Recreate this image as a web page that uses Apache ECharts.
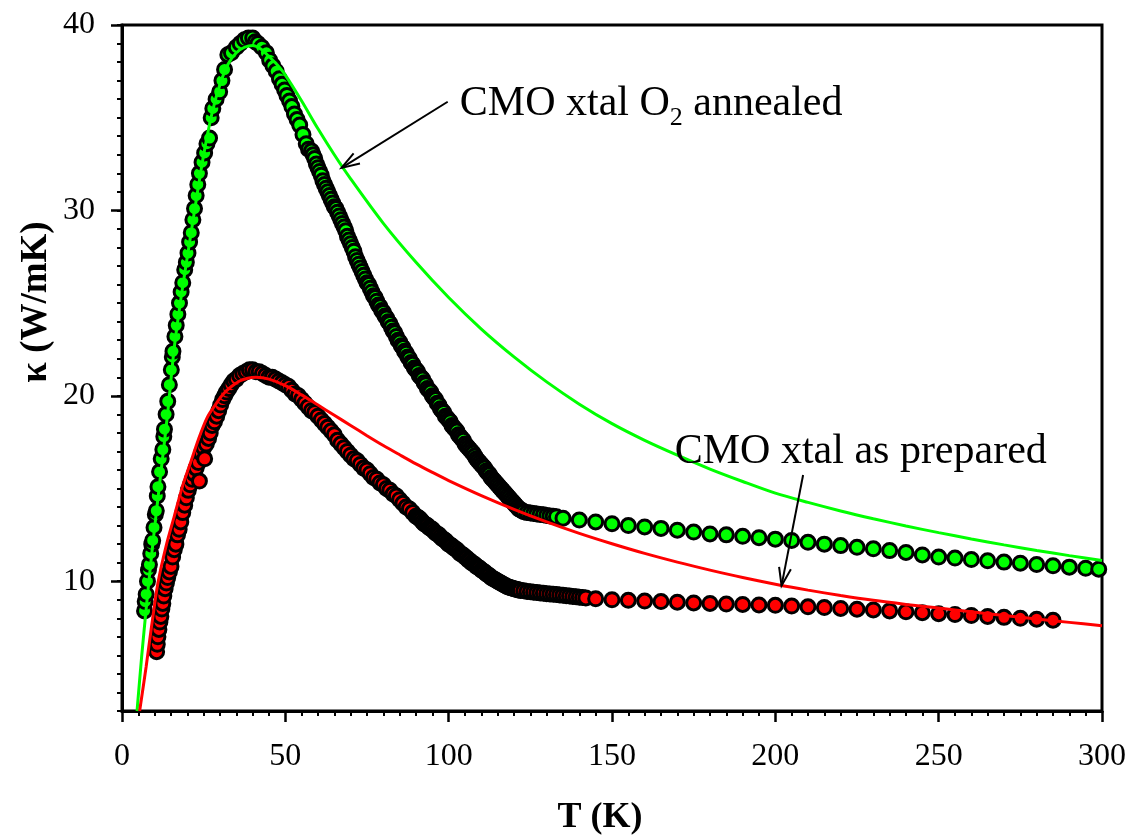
<!DOCTYPE html>
<html>
<head>
<meta charset="utf-8">
<title>Thermal conductivity of CMO crystals</title>
<script src="https://cdn.jsdelivr.net/npm/echarts@6/dist/echarts.min.js"></script>
<style>
  html, body { margin: 0; padding: 0; background: #fff; }
  #chart { width: 1130px; height: 836px; }
</style>
</head>
<body>
<div id="chart"></div>
<script>
// ---- Measured κ(T) for the O2-annealed crystal: [T (K), κ (W/mK)] ----
const annealedRise = [
  [6.9,8.4],[7.1,8.9],[7.4,9.3],[7.8,10.0],[8.1,10.6],[8.4,10.9],[8.8,11.5],[9.1,12.0],[9.4,12.2],[9.8,12.9],
  [10.2,13.6],[10.5,13.8],[10.8,14.6],[11.0,15.1],[11.5,15.9],[12.0,16.6],[12.5,17.1],[12.8,17.8],[13.0,18.2],[13.5,19.0],
  [14.0,19.7],[14.5,20.6],[15.1,21.4],[15.4,22.1],[15.6,22.4],[16.2,23.2],[16.6,23.8],[17.1,24.4],[17.6,25.0],[18.1,25.6],
  [18.6,26.1],[19.2,26.8],[19.7,27.2],[20.2,27.7],[20.7,28.3],[21.2,28.8],[21.7,29.5],[22.2,30.1],[22.7,30.8],[23.2,31.4],
  [23.7,32.0],[24.5,32.6],[25.3,33.1],[26.0,33.6],[26.8,33.9],[27.3,35.0],[27.8,35.5],[28.8,36.0],[29.9,36.4],[30.6,37.0],
  [31.4,37.6],[32.4,38.4],[33.5,38.5],[35.0,38.8],[36.2,39.0],[37.5,39.2],[38.7,39.3],[40.0,39.3],[40.8,39.1],[41.6,39.0],
  [42.8,38.8],[44.2,38.5],[45.2,38.1],[46.2,37.8],[47.2,37.5],[48.2,37.1],[49.0,36.8],[49.8,36.5],[50.5,36.2],[51.3,35.9],
  [52.0,35.6],[52.8,35.2],[53.6,34.9],[54.4,34.6],[55.4,34.1],[56.4,33.6],[57.1,33.3]
];
const annealedDense = [
  [58.0,33.2],[58.5,33.0],[59.0,32.8],[59.5,32.5],[60.0,32.3],[60.5,32.1],[61.0,31.9],[61.5,31.6],[62.0,31.4],[62.5,31.2],
  [63.0,31.0],[63.5,30.8],[64.0,30.6],[64.5,30.4],[65.0,30.2],[65.5,30.1],[66.0,29.9],[66.5,29.7],[67.0,29.5],[67.5,29.3],
  [68.0,29.1],[68.5,28.9],[69.0,28.6],[69.5,28.4],[70.0,28.2],[70.5,28.0],[71.0,27.8],[71.5,27.5],[72.0,27.3],[72.5,27.1],
  [73.0,26.9],[73.5,26.7],[74.0,26.5],[74.5,26.3],[75.0,26.1],[75.5,26.0],[76.0,25.8],[76.5,25.6],[77.0,25.4],[77.5,25.3],
  [78.0,25.1],[78.5,24.9],[79.0,24.8],[79.5,24.6],[80.0,24.5],[80.5,24.3],[81.0,24.2],[81.5,24.0],[82.0,23.9],[82.5,23.7],
  [83.0,23.5],[83.5,23.4],[84.0,23.2],[84.5,23.0],[85.0,22.9],[85.5,22.7],[86.0,22.6],[86.5,22.4],[87.0,22.3],[87.5,22.1],
  [88.0,22.0],[88.5,21.8],[89.0,21.7],[89.5,21.5],[90.0,21.4],[90.5,21.3],[91.0,21.1],[91.5,21.0],[92.0,20.9],[92.5,20.7],
  [93.0,20.6],[93.5,20.4],[94.0,20.3],[94.5,20.2],[95.0,20.0],[95.5,19.9],[96.0,19.8],[96.5,19.6],[97.0,19.5],[97.5,19.3],
  [98.0,19.2],[98.5,19.1],[99.0,18.9],[99.5,18.8],[100.0,18.7],[100.5,18.6],[101.0,18.4],[101.5,18.3],[102.0,18.2],[102.5,18.1],
  [103.0,17.9],[103.5,17.8],[104.0,17.7],[104.5,17.6],[105.0,17.4],[105.5,17.3],[106.0,17.2],[106.5,17.1],[107.0,17.0],[107.5,16.9],
  [108.0,16.75],[108.5,16.6],[109.0,16.5],[109.5,16.4],[110.0,16.3],[110.5,16.2],[111.0,16.1],[111.5,15.95],[112.0,15.85],[112.5,15.75],
  [113.0,15.6],[113.5,15.5],[114.0,15.4],[114.5,15.3],[115.0,15.2],[115.5,15.1],[116.0,15.0],[116.5,14.9],[117.0,14.8],[117.5,14.7],
  [118.0,14.6],[118.5,14.5],[119.0,14.4],[119.5,14.3],[120.0,14.2],[120.5,14.1],[121.0,14.0],[121.5,13.9],[122.0,13.85],[122.5,13.8],
  [123.0,13.75],[124.0,13.7],[125.0,13.68],[126.0,13.65],[127.0,13.62],[128.0,13.6],[129.0,13.58],[130.0,13.55],[131.0,13.52],[132.0,13.5],
  [133.0,13.48]
];
const annealedSparse = [
  [135,13.4],[140,13.3],[145,13.2],[150,13.1],[155,13.0],[160,12.93],[165,12.85],[170,12.75],[175,12.65],[180,12.55],
  [185,12.5],[190,12.42],[195,12.35],[200,12.27],[205,12.2],[210,12.1],[215,12.0],[220,11.92],[225,11.83],[230,11.75],
  [235,11.65],[240,11.55],[245,11.42],[250,11.3],[255,11.25],[260,11.17],[265,11.1],[270,11.03],[275,10.97],[280,10.9],
  [285,10.83],[290,10.76],[295,10.7],[299,10.65]
];

// ---- Measured κ(T) for the as-prepared crystal ----
const preparedRise = [
  [10.6,6.2],[10.8,6.6],[11.0,7.0],[11.3,7.4],[11.6,7.8],[11.9,8.1],[12.2,8.5],[12.5,8.8],[12.8,9.2],[13.2,9.6],
  [13.6,9.9],[14.0,10.2],[14.5,10.5],[15.0,10.8],[15.5,11.3],[16.0,11.7],[16.5,12.0],[17.0,12.5],[17.5,12.8],[18.0,13.2],
  [18.6,13.7],[19.2,14.1],[19.7,14.5],[20.3,14.9],[20.9,15.2],[21.5,15.5],[22.1,15.8],[22.7,16.1],[23.4,16.4],[23.7,15.4],
  [24.3,16.9],[25.0,17.2],[25.3,16.6],[25.8,17.4],[26.5,17.7],[27.0,18.0],[27.6,18.4],[28.3,18.6],[29.0,18.9],[29.6,19.2],
  [30.2,19.5],[30.8,19.8],[31.4,20.0],[32.0,20.2],[32.7,20.4],[33.4,20.6],[34.2,20.8],[35.0,20.9],[36.0,21.1],[37.0,21.2],
  [38.0,21.3],[39.0,21.4],[40.0,21.4]
];
const preparedFall = [
  [41.0,21.3],[42.0,21.3],[43.0,21.2],[44.0,21.1],[45.0,21.0],[46.0,21.0],[47.0,20.9],[48.0,20.8],[49.0,20.7],[50.0,20.6],
  [51.0,20.5],[52.0,20.3],[53.0,20.1],[54.0,20.0],[55.0,19.8],[56.0,19.6],[57.0,19.4],[58.0,19.2],[59.0,19.1],[60.0,18.9],
  [61.0,18.7],[62.0,18.5],[63.0,18.3],[64.0,18.1],[65.0,17.9],[66.0,17.6],[67.0,17.4],[68.0,17.2],[69.0,17.0],[70.0,16.8],
  [71.0,16.6],[72.0,16.5],[73.0,16.3],[74.0,16.1],[75.0,16.0],[76.0,15.8],[77.0,15.6],[78.0,15.5],[79.0,15.3],[80.0,15.2],
  [81.0,15.0],[82.0,14.9],[83.0,14.7],[84.0,14.6],[85.0,14.4],[86.0,14.2],[87.0,14.0],[88.0,13.9],[89.0,13.7],[90.0,13.5]
];
const preparedDense = [
  [90.5,13.45],[91.0,13.4],[91.5,13.3],[92.0,13.2],[92.5,13.1],[93.0,13.05],[93.5,13.0],[94.0,12.9],[94.5,12.85],[95.0,12.8],
  [95.5,12.7],[96.0,12.6],[96.5,12.55],[97.0,12.5],[97.5,12.4],[98.0,12.3],[98.5,12.25],[99.0,12.2],[99.5,12.1],[100.0,12.0],
  [100.5,11.95],[101.0,11.9],[101.5,11.8],[102.0,11.75],[102.5,11.7],[103.0,11.6],[103.5,11.5],[104.0,11.45],[104.5,11.4],[105.0,11.3],
  [105.5,11.25],[106.0,11.15],[106.5,11.1],[107.0,11.0],[107.5,10.95],[108.0,10.9],[108.5,10.8],[109.0,10.75],[109.5,10.7],[110.0,10.6],
  [110.5,10.55],[111.0,10.5],[111.5,10.4],[112.0,10.35],[112.5,10.3],[113.0,10.2],[113.5,10.15],[114.0,10.1],[114.5,10.05],[115.0,10.0],
  [115.5,9.95],[116.0,9.9],[116.5,9.85],[117.0,9.8],[117.5,9.75],[118.0,9.7],[118.5,9.68],[119.0,9.65],[119.5,9.62],[120.0,9.6],
  [120.5,9.57],[121.0,9.55],[121.5,9.52],[122.0,9.5],[123.0,9.48],[124.0,9.45],[125.0,9.43],[126.0,9.41],[127.0,9.39],[128.0,9.37],
  [129.0,9.35],[130.0,9.33],[131.0,9.31],[132.0,9.3],[133.0,9.28],[134.0,9.26],[135.0,9.24],[136.0,9.22],[137.0,9.2],[138.0,9.18],
  [139.0,9.16],[140.0,9.14],[141.0,9.12],[142.0,9.1]
];
const preparedSparse = [
  [145,9.05],[150,9.0],[155,8.97],[160,8.93],[165,8.9],[170,8.87],[175,8.83],[180,8.8],[185,8.77],[190,8.75],
  [195,8.72],[200,8.7],[205,8.66],[210,8.62],[215,8.58],[220,8.53],[225,8.49],[230,8.45],[235,8.4],[240,8.35],
  [245,8.3],[250,8.25],[255,8.2],[260,8.15],[265,8.1],[270,8.05],[275,8.0],[280,7.95],[285,7.9]
];

// ---- Model fits κ(T) ----
const annealedFit = [
  [4.6,3.0],[6,5.9],[7.5,8.7],[9,11.3],[10.5,13.7],[12,16.0],[14,19.1],[16,22.6],[18,25.2],[20,27.5],
  [22.5,30.3],[25,33.0],[27.5,35.2],[30,36.8],[32.5,37.9],[35,38.5],[37.5,38.8],[40,38.9],[42.5,38.7],[45,38.3],
  [47.5,37.85],[50,37.3],[55,35.9],[60,34.4],[65,33.0],[70,31.7],[80,29.3],[90,27.2],[100,25.3],[110,23.6],
  [120,22.1],[130,20.75],[140,19.55],[150,18.5],[160,17.6],[170,16.8],[180,16.05],[190,15.38],[200,14.75],[210,14.25],
  [220,13.79],[230,13.37],[240,12.98],[250,12.62],[260,12.28],[270,11.96],[280,11.66],[290,11.38],[300,11.12]
];
const preparedFit = [
  [5.4,3.0],[7.4,5.4],[9,7.5],[11,9.9],[13.5,11.9],[16,13.5],[18.5,15.1],[21,16.4],[23.5,17.7],[26,18.8],
  [28.5,19.5],[31,20.1],[33.5,20.5],[36,20.8],[38.5,20.95],[41,21.0],[45,20.9],[50,20.55],[55,20.05],[60,19.5],
  [65,18.95],[70,18.4],[75,17.85],[80,17.32],[85,16.82],[90,16.33],[95,15.87],[100,15.43],[110,14.62],[120,13.88],
  [130,13.2],[140,12.58],[150,12.02],[160,11.5],[170,11.03],[180,10.6],[190,10.2],[200,9.84],[210,9.52],[220,9.23],
  [230,8.97],[240,8.75],[250,8.55],[260,8.35],[270,8.15],[280,7.96],[290,7.78],[300,7.6]
];

// ---- Axis ticks and annotations ----
const xTicks = [0, 50, 100, 150, 200, 250, 300];
const yMajorTicks = [10, 20, 30, 40];
const annotations = [
  { parts: ['CMO xtal O', '2', ' annealed'], at: [103.4, 35.02], arrowFrom: [99.7, 35.86], arrowTo: [67.2, 32.29] },
  { parts: ['CMO xtal as prepared'], at: [169.2, 16.21], arrowFrom: [208.5, 15.73], arrowTo: [201.9, 9.76] }
];

const SERIF = '"Liberation Serif", "Times New Roman", serif';

const markerStyle = (fill) => ({ color: fill, borderColor: '#000', borderWidth: 3, opacity: 1 });

const chart = echarts.init(document.getElementById('chart'), null, { renderer: 'canvas' });

const option = {
  animation: false,
  backgroundColor: '#fff',
  grid: {
    left: 122, right: 28, top: 25, bottom: 125,
    show: true, borderColor: '#000', borderWidth: 3, backgroundColor: 'transparent'
  },
  xAxis: {
    type: 'value', min: xTicks[0], max: xTicks[xTicks.length - 1], interval: 50,
    axisLine: { show: true, onZero: false, lineStyle: { color: '#000', width: 3 } },
    axisTick: { show: true, inside: false, length: 11, lineStyle: { color: '#000', width: 2.5 } },
    minorTick: { show: true, splitNumber: 10, length: 5, lineStyle: { color: '#000', width: 2 } },
    splitLine: { show: false },
    axisLabel: { color: '#000', fontFamily: SERIF, fontSize: 32, margin: 30 }
  },
  yAxis: [
    {
      type: 'value', min: 3, max: 40, position: 'left', offset: 0,
      axisLine: { show: true, onZero: false, lineStyle: { color: '#000', width: 3 } },
      axisTick: { show: true, inside: false, length: 11, customValues: yMajorTicks, lineStyle: { color: '#000', width: 2.5 } },
      axisLabel: { color: '#000', fontFamily: SERIF, fontSize: 32, margin: 27, customValues: yMajorTicks },
      splitLine: { show: false }
    },
    {
      type: 'value', min: 3, max: 40, interval: 1, position: 'left', offset: 0,
      axisLine: { show: false },
      axisTick: { show: true, inside: false, length: 5, lineStyle: { color: '#000', width: 2 } },
      axisLabel: { show: false },
      splitLine: { show: false }
    }
  ],
  series: [
    {
      name: 'as prepared (data)', type: 'scatter', yAxisIndex: 0,
      data: [...preparedRise, ...preparedFall, ...preparedDense, ...preparedSparse],
      symbol: 'circle', symbolSize: 14, itemStyle: markerStyle('#ff0000'), z: 2
    },
    {
      name: 'O2 annealed (data)', type: 'scatter', yAxisIndex: 0,
      data: [...annealedRise, ...annealedDense, ...annealedSparse],
      symbol: 'circle', symbolSize: 14, itemStyle: markerStyle('#00ff00'), z: 2
    },
    {
      name: 'O2 annealed (fit)', type: 'line', yAxisIndex: 0, data: annealedFit,
      showSymbol: false, smooth: 0.3,
      lineStyle: { color: '#00ff00', width: 3 }, z: 3
    },
    {
      name: 'as prepared (fit)', type: 'line', yAxisIndex: 0, data: preparedFit,
      showSymbol: false, smooth: 0.3,
      lineStyle: { color: '#ff0000', width: 3 }, z: 3
    }
  ]
};

chart.setOption(option);

// ---- Annotations: texts and arrows anchored in data coordinates ----
const measureCtx = document.createElement('canvas').getContext('2d');
function textWidth(str, size, weight) {
  measureCtx.font = (weight || 'normal') + ' ' + size + 'px ' + SERIF;
  return measureCtx.measureText(str).width;
}
function toPx(p) { return chart.convertToPixel({ xAxisIndex: 0, yAxisIndex: 0 }, p); }

function arrowElements(from, to) {
  const a = toPx(from), b = toPx(to);
  const dx = b[0] - a[0], dy = b[1] - a[1];
  const len = Math.hypot(dx, dy), ux = dx / len, uy = dy / len;
  const hl = 18, hw = 6;
  const w1 = [b[0] - ux * hl - uy * hw, b[1] - uy * hl + ux * hw];
  const w2 = [b[0] - ux * hl + uy * hw, b[1] - uy * hl - ux * hw];
  const st = { stroke: '#000', lineWidth: 2, fill: null };
  return [
    { type: 'polyline', shape: { points: [a, b] }, style: st, z: 10 },
    { type: 'polyline', shape: { points: [w1, b, w2] }, style: st, z: 10 }
  ];
}

const graphics = [];
const MAIN = 42, SUB = 26;
annotations.forEach((ann) => {
  const p = toPx(ann.at);
  let x = p[0];
  const baseline = p[1];
  ann.parts.forEach((part, i) => {
    const isSub = ann.parts.length > 1 && i === 1;
    const size = isSub ? SUB : MAIN;
    const base = isSub ? baseline + 9 : baseline;
    graphics.push({
      type: 'text', x: x, y: base - 0.33 * size, z: 10,
      style: { text: part, fill: '#000', font: size + 'px ' + SERIF, align: 'left', verticalAlign: 'middle' }
    });
    x += textWidth(part, size);
  });
  graphics.push(...arrowElements(ann.arrowFrom, ann.arrowTo));
});

// Axis titles
graphics.push({
  type: 'text', x: 600, y: 818, z: 10,
  style: { text: 'T (K)', fill: '#000', font: 'bold 36px ' + SERIF, align: 'center', verticalAlign: 'middle' }
});
graphics.push({
  type: 'text', x: 36, y: 302, rotation: Math.PI / 2, z: 10,
  style: { text: 'κ (W/mK)', fill: '#000', font: 'bold 37px ' + SERIF, align: 'center', verticalAlign: 'middle' }
});

chart.setOption({ graphic: graphics });
</script>
</body>
</html>
